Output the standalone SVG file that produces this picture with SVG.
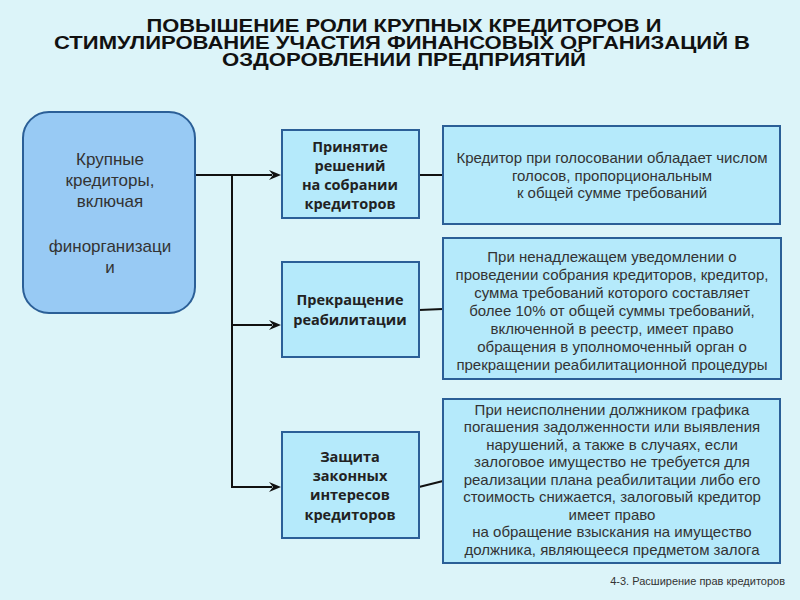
<svg xmlns="http://www.w3.org/2000/svg" width="800" height="600" viewBox="0 0 800 600">
<defs>
<path id="ah" d="M0,0 L-12,-5 L-8,0 L-12,5 Z" fill="#111"/>
<style>
.title{font-family:"Liberation Sans",Arial,sans-serif;font-size:18px;font-weight:bold;fill:#111;text-anchor:middle}
.box{fill:#b5eafb;stroke:#2b5f97;stroke-width:2}
.lbox{fill:#98caf4;stroke:#2b5f97;stroke-width:2}
.mid{font-family:"Open Sans","Liberation Sans",sans-serif;font-size:14.5px;font-weight:bold;fill:#222;text-anchor:middle}
.txt{font-family:"Liberation Sans",Arial,sans-serif;font-size:15px;fill:#333;text-anchor:middle}
.ltxt{font-family:"Liberation Sans",Arial,sans-serif;font-size:17px;fill:#333;text-anchor:middle}
.con{stroke:#111;stroke-width:2;fill:none}
</style>
</defs>
<rect width="800" height="600" fill="#dcf4f9"/>
<g id="title">
<text class="title" x="404" y="32" textLength="515" lengthAdjust="spacingAndGlyphs">ПОВЫШЕНИЕ РОЛИ КРУПНЫХ КРЕДИТОРОВ И</text>
<text class="title" x="402" y="49" textLength="696" lengthAdjust="spacingAndGlyphs">СТИМУЛИРОВАНИЕ УЧАСТИЯ ФИНАНСОВЫХ ОРГАНИЗАЦИЙ  В</text>
<text class="title" x="404" y="66" textLength="364" lengthAdjust="spacingAndGlyphs">ОЗДОРОВЛЕНИИ ПРЕДПРИЯТИЙ</text>
</g>
<g id="connectors">
<path class="con" d="M195,175 H272"/>
<path class="con" d="M232,175 V487 H272"/>
<path class="con" d="M232,325 H272"/>
<use href="#ah" x="281" y="175"/>
<use href="#ah" x="281" y="325"/>
<use href="#ah" x="281" y="487"/>
<path class="con" d="M419,175 H443"/>
<path class="con" d="M419,310 L443,309"/>
<path class="con" d="M419,487 L443,481"/>
</g>
<g id="creditors">
<rect class="lbox" x="23" y="112" width="172" height="201" rx="26"/>
<text class="ltxt" x="110" y="165">Крупные</text>
<text class="ltxt" x="110" y="186">кредиторы,</text>
<text class="ltxt" x="110" y="207">включая</text>
<text class="ltxt" x="110" y="252">финорганизаци</text>
<text class="ltxt" x="110" y="273">и</text>
</g>
<g id="decisions">
<rect class="box" x="282" y="130" width="137" height="88"/>
<text class="mid" x="350" y="152">Принятие</text>
<text class="mid" x="350" y="171">решений</text>
<text class="mid" x="350" y="190">на собрании</text>
<text class="mid" x="350" y="209">кредиторов</text>
</g>
<g id="termination">
<rect class="box" x="282" y="262" width="137" height="95"/>
<text class="mid" x="350" y="305">Прекращение</text>
<text class="mid" x="350" y="325">реабилитации</text>
</g>
<g id="protection">
<rect class="box" x="282" y="432" width="137" height="106"/>
<text class="mid" x="350" y="462">Защита</text>
<text class="mid" x="350" y="481">законных</text>
<text class="mid" x="350" y="500">интересов</text>
<text class="mid" x="350" y="520">кредиторов</text>
</g>
<g id="votes">
<rect class="box" x="443" y="126" width="337" height="98"/>
<text class="txt" x="612" y="163">Кредитор при голосовании обладает числом</text>
<text class="txt" x="612" y="181">голосов, пропорциональным</text>
<text class="txt" x="612" y="198">к общей сумме требований</text>
</g>
<g id="notice">
<rect class="box" x="443" y="238" width="338" height="141"/>
<text class="txt" x="612" y="262">При ненадлежащем уведомлении о</text>
<text class="txt" x="612" y="280">проведении собрания кредиторов, кредитор,</text>
<text class="txt" x="612" y="298">сумма требований которого составляет</text>
<text class="txt" x="612" y="316">более 10% от общей суммы требований,</text>
<text class="txt" x="612" y="334">включенной в реестр, имеет право</text>
<text class="txt" x="612" y="352">обращения в уполномоченный орган о</text>
<text class="txt" x="612" y="370">прекращении реабилитационной процедуры</text>
</g>
<g id="collateral">
<rect class="box" x="443" y="399" width="337" height="164"/>
<text class="txt" x="612" y="415">При неисполнении должником графика</text>
<text class="txt" x="612" y="432">погашения задолженности  или выявления</text>
<text class="txt" x="612" y="450">нарушений, а также в случаях, если</text>
<text class="txt" x="612" y="467">залоговое имущество не требуется  для</text>
<text class="txt" x="612" y="485">реализации плана реабилитации либо его</text>
<text class="txt" x="612" y="502">стоимость снижается, залоговый кредитор</text>
<text class="txt" x="612" y="520">имеет право</text>
<text class="txt" x="612" y="537">на обращение взыскания на имущество</text>
<text class="txt" x="612" y="555">должника, являющееся предметом залога</text>
</g>
<text x="785" y="585" font-family="Liberation Sans,Arial,sans-serif" font-size="11" fill="#333" text-anchor="end">4-3. Расширение прав кредиторов</text>
</svg>
